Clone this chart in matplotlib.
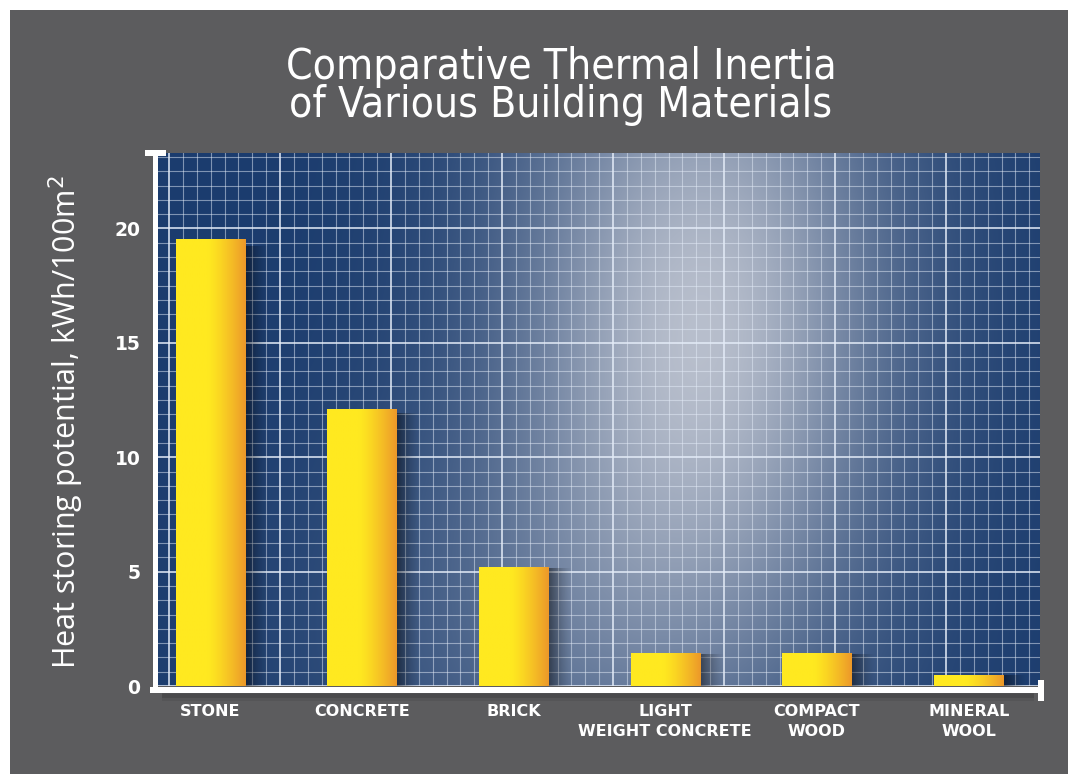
import numpy as np
import matplotlib
matplotlib.use("Agg")
import matplotlib.pyplot as plt
from matplotlib.patches import Rectangle
from matplotlib.lines import Line2D

# data
materials = ["STONE", "CONCRETE", "BRICK", "LIGHT\nWEIGHT CONCRETE", "COMPACT\nWOOD", "MINERAL\nWOOL"]
heat_storing = [19.5, 12.1, 5.2, 1.4, 1.4, 0.45]
y_ticks = [0, 5, 10, 15, 20]

W, H = 1079, 774
fig = plt.figure(figsize=(W / 100, H / 100), dpi=100, facecolor="white")

# grey card behind everything
fig.patches.append(Rectangle((10 / W, 0), 1058 / W, 764 / H, transform=fig.transFigure,
                             facecolor="#5c5c5e", edgecolor="none", zorder=-10))

ax_l, ax_r, ax_t, ax_b = 157, 1040, 153, 686
ax = fig.add_axes([ax_l / W, 1 - ax_b / H, (ax_r - ax_l) / W, (ax_b - ax_t) / H])
x = np.arange(len(materials))
xlim = (-0.35, 5.47)
ylim = (0, 23.3)

# background: navy with a soft light glow
pw, ph = ax_r - ax_l, ax_b - ax_t
gx, gy = np.meshgrid(np.arange(pw), np.arange(ph))
navy = np.array([27, 60, 110]) / 255
light = np.array([200, 204, 214]) / 255
glow = np.exp(-0.5 * (((gx - 545) / 135) ** 2 + ((gy - 160) / 240) ** 2)) * 0.88
glow += np.exp(-0.5 * (((gx - 400) / 170) ** 2 + ((gy - 480) / 160) ** 2)) * 0.25
glow = np.clip(glow, 0, 0.92)
bg = navy[None, None, :] * (1 - glow[..., None]) + light[None, None, :] * glow[..., None]
ax.imshow(bg, extent=(*xlim, *ylim), aspect="auto", origin="upper", zorder=0)

# fine grid (square cells), brighter every 8th line
for i in range(0, 38):
    yv = i * 0.625
    major = i % 8 == 0
    ax.axhline(yv, color="#e4ecf8", lw=1.3 if major else 0.8,
               alpha=0.85 if major else 0.5, zorder=1)
step = 111 / pw / 8
for i in range(0, 64):
    xv = 12 / pw + i * step
    if xv > 1:
        break
    major = i % 8 == 0
    ax.axvline(xlim[0] + xv * (xlim[1] - xlim[0]), color="#e4ecf8",
               lw=1.3 if major else 0.8, alpha=0.85 if major else 0.5, zorder=1)

# bars with a yellow-to-orange gradient and a soft shadow on the right
bw = 0.455
t = np.linspace(0, 1, 100)
c1 = np.array([255, 233, 32]) / 255
c2 = np.array([236, 152, 42]) / 255
mix = np.clip((t - 0.45) / 0.55, 0, 1) ** 1.3
bar_grad = (c1[None, :] * (1 - mix[:, None]) + c2[None, :] * mix[:, None])[None, :, :]
shadow = np.zeros((1, 50, 4))
shadow[0, :, 3] = np.linspace(0.6, 0, 50) ** 1.4
for xi, h in zip(x, heat_storing):
    ax.imshow(shadow, extent=(xi + bw / 2, xi + bw / 2 + 0.16, 0, h * 0.985),
              aspect="auto", zorder=2)
    ax.imshow(bar_grad, extent=(xi - bw / 2, xi + bw / 2, 0, h), aspect="auto", zorder=3)

ax.set_xlim(*xlim)
ax.set_ylim(*ylim)
for s in ax.spines.values():
    s.set_visible(False)

ax.set_xticks(x)
ax.set_xticklabels(materials, color="white", fontsize=11.5, fontweight="bold",
                   family="DejaVu Sans", linespacing=1.45)
ax.set_yticks(y_ticks)
ax.set_yticklabels([str(v) for v in y_ticks], color="white", fontsize=13.5,
                   fontweight="bold", family="DejaVu Sans")
ax.tick_params(axis="both", length=0)
ax.tick_params(axis="x", pad=13)
ax.tick_params(axis="y", pad=12)

# white axis lines with end caps
def px(xp, yp):
    return (xp - ax_l) / pw, (ax_b - yp) / ph

for off, al in [(4, 0.12), (7, 0.07)]:
    a, b = px(165, 690 + off)
    c, d = px(1030, 690 + off)
    ax.add_line(Line2D([a, c], [b, d], transform=ax.transAxes, color="black", alpha=al,
                       lw=5, clip_on=False, zorder=4))
for (x0, y0), (x1, y1), lw in [((155, 150), (155, 690), 5), ((145, 153), (166, 153), 6),
                                ((150, 690), (1041, 690), 6), ((1041, 680), (1041, 701), 6)]:
    a, b = px(x0, y0)
    c, d = px(x1, y1)
    ax.add_line(Line2D([a, c], [b, d], transform=ax.transAxes, color="white",
                       lw=lw * 0.72, solid_capstyle="butt", clip_on=False, zorder=5))

fig.text(561 / W, 1 - 86 / H, "Comparative Thermal Inertia\nof Various Building Materials",
         ha="center", va="center", color="white", fontsize=30.5,
         family="DejaVu Sans", stretch="condensed", linespacing=0.9)
fig.text(66 / W, 1 - 422 / H, "Heat storing potential, kWh/100m$^2$", rotation=90,
         ha="center", va="center", color="white", fontsize=22, family="Open Sans")

fig.savefig("out.png", dpi=100, facecolor="white")
